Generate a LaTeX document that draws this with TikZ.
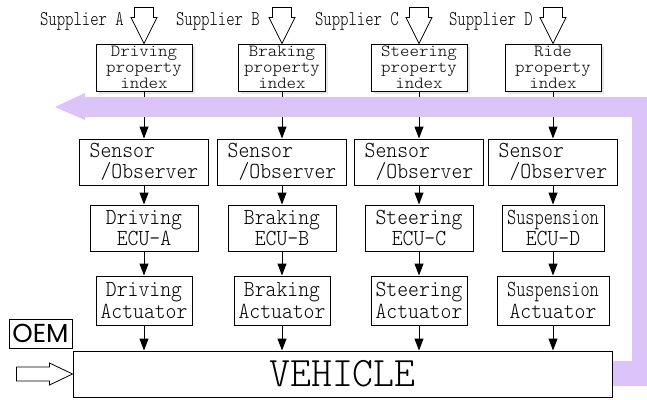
\documentclass[tikz,border=0pt]{standalone}
\usepackage{fontspec}
\usepackage{xcolor}
\usetikzlibrary{arrows.meta, shadows}

\newfontfamily\boxfont{lmmonolt10-regular.otf}[FakeStretch=0.9]
\newfontfamily\indexfont{lmmonolt10-regular.otf}[FakeStretch=1.06]
\newfontfamily\supfont{lmmonolt10-regular.otf}[FakeStretch=0.76]
\newfontfamily\bigfont{lmmonolt10-regular.otf}[FakeStretch=0.95]
\newfontfamily\oemfont{Poppins}
\definecolor{lilac}{RGB}{220,195,248}

\begin{document}
\begin{tikzpicture}[
        x=1pt, y=-1pt,
        block/.style={rectangle, draw, line width=1pt, fill=white, inner sep=0pt, align=center, font=\boxfont\fontsize{23}{21.5}\selectfont},
        index/.style={block, minimum width=96pt, minimum height=47pt, font=\indexfont\fontsize{17}{16}\selectfont, drop shadow={opacity=0.2, shadow xshift=2.5pt, shadow yshift=-2.5pt}},
        sensor/.style={block, minimum width=129pt, minimum height=46pt, align=left},
        ecu/.style={block, minimum width=108pt, minimum height=46pt},
        actuator/.style={block, minimum width=96pt, minimum height=49pt},
        supplier/.style={font=\supfont\fontsize{21}{21}\selectfont, inner sep=0pt},
        feed/.style={draw, line width=0.8pt, fill=white},
        arrow/.style={line width=1pt,->,>={Triangle[length=12pt,width=9pt]}}
    ]
        \useasboundingbox (0,0) rectangle (647,399);

        % Property index
        \node[index] (idxA) at (144,67.5) {Driving\\property\\index};
        \node[index, minimum width=87pt] (idxB) at (282,67.5) {Braking\\property\\index};
        \node[index] (idxC) at (419,67.5) {Steering\\property\\index};
        \node[index] (idxD) at (553,67.5) {Ride\\property\\index};

        % Suppliers
        \node[supplier, anchor=east] (supA) at ([xshift=-20pt, yshift=22pt]idxA.north) {Supplier A};
        \node[supplier, anchor=east] (supB) at ([xshift=-22pt, yshift=22pt]idxB.north) {Supplier B};
        \node[supplier, anchor=east] (supC) at ([xshift=-20pt, yshift=22pt]idxC.north) {Supplier C};
        \node[supplier, anchor=east] (supD) at ([xshift=-20pt, yshift=22pt]idxD.north) {Supplier D};
        \draw[feed] (idxA.north) -- ++(-13,-26) -- ++(3.5,0) -- ++(0,-10) -- ++(19,0) -- ++(0,10) -- ++(3.5,0) -- cycle;
        \draw[feed] (idxB.north) -- ++(-13,-26) -- ++(3.5,0) -- ++(0,-10) -- ++(19,0) -- ++(0,10) -- ++(3.5,0) -- cycle;
        \draw[feed] (idxC.north) -- ++(-13,-26) -- ++(3.5,0) -- ++(0,-10) -- ++(19,0) -- ++(0,10) -- ++(3.5,0) -- cycle;
        \draw[feed] (idxD.north) -- ++(-13,-26) -- ++(3.5,0) -- ++(0,-10) -- ++(19,0) -- ++(0,10) -- ++(3.5,0) -- cycle;

        % Sensors
        \node[sensor] (senA) at (144,162) {Sensor\\\ /Observer};
        \node[sensor] (senB) at (282,162) {Sensor\\\ /Observer};
        \node[sensor] (senC) at (419,162) {Sensor\\\ /Observer};
        \node[sensor] (senD) at (553,162) {Sensor\\\ /Observer};

        % ECUs
        \node[ecu] (ecuA) at (144,228) {Driving\\ECU-A};
        \node[ecu] (ecuB) at (282,228) {Braking\\ECU-B};
        \node[ecu] (ecuC) at (419,228) {Steering\\ECU-C};
        \node[ecu, minimum width=102pt] (ecuD) at (553,228) {{\supfont Suspension}\\ECU-D};

        % Actuators
        \node[actuator] (actA) at (144,300.5) {Driving\\Actuator};
        \node[actuator] (actB) at (282,300.5) {Braking\\Actuator};
        \node[actuator] (actC) at (419,300.5) {Steering\\Actuator};
        \node[actuator, minimum width=112pt] (actD) at (553,300.5) {{\supfont Suspension}\\Actuator};

        % Arrows
        \draw[arrow] (idxA) -- (senA);
        \draw[arrow] (idxB) -- (senB);
        \draw[arrow] (idxC) -- (senC);
        \draw[arrow] (idxD) -- (senD);
        \draw[arrow] (senA) -- (ecuA);
        \draw[arrow] (senB) -- (ecuB);
        \draw[arrow] (senC) -- (ecuC);
        \draw[arrow] (senD) -- (ecuD);
        \draw[arrow] (ecuA) -- (actA);
        \draw[arrow] (ecuB) -- (actB);
        \draw[arrow] (ecuC) -- (actC);
        \draw[arrow] (ecuD) -- (actD);

        % Feedback band
        \fill[lilac] (600,386) -- (647,386) -- (647,97) -- (85,97) -- (85,93) -- (55,107) -- (85,120) -- (85,117)
            -- (632,117) -- (632,361) -- (600,361) -- cycle;

        % Vehicle and OEM
        \node[block, minimum width=539pt, minimum height=46pt, font=\bigfont\fontsize{42}{42}\selectfont] (veh) at (342.5,374) {VEHICLE};
        \node[draw, line width=1pt, minimum width=63pt, minimum height=29pt, inner sep=0pt, font=\oemfont\fontsize{26}{26}\selectfont] (oem) at (40.5,333.5) {OEM};
        \draw[feed] (veh.west) -- ++(-23,-11) -- ++(0,4) -- ++(-33,0) -- ++(0,14) -- ++(33,0) -- ++(0,4) -- cycle;

        \draw[arrow] (actA) -- (actA.south |- veh.north);
        \draw[arrow] (actB) -- (actB.south |- veh.north);
        \draw[arrow] (actC) -- (actC.south |- veh.north);
        \draw[arrow] (actD) -- (actD.south |- veh.north);
    \end{tikzpicture}
\end{document}
